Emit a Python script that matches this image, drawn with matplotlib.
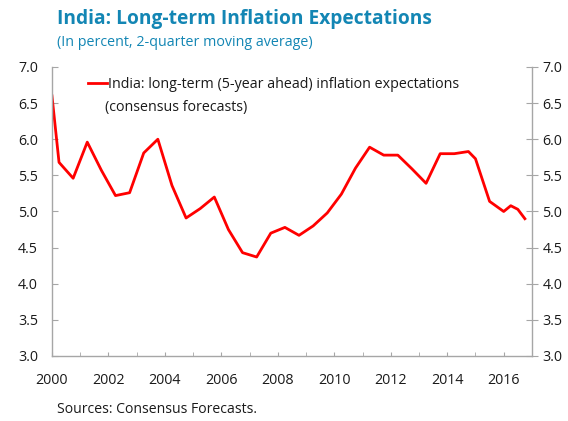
import numpy as np
import matplotlib.pyplot as plt
from matplotlib.ticker import MultipleLocator

plt.rcParams['font.family'] = ['Open Sans', 'DejaVu Sans']

# semiannual points, quarterly near the end
years = [2000.0, 2000.25, 2000.75, 2001.25, 2001.75, 2002.25, 2002.75, 2003.25,
         2003.75, 2004.25, 2004.75, 2005.25, 2005.75, 2006.25, 2006.75, 2007.25,
         2007.75, 2008.25, 2008.75, 2009.25, 2009.75, 2010.25, 2010.75, 2011.25,
         2011.75, 2012.25, 2012.75, 2013.25, 2013.75, 2014.25, 2014.75, 2015.0,
         2015.5, 2016.0, 2016.25, 2016.5, 2016.75]
expect = [6.60, 5.68, 5.46, 5.96, 5.57, 5.22, 5.26, 5.81,
          6.00, 5.36, 4.91, 5.04, 5.20, 4.75, 4.43, 4.37,
          4.70, 4.78, 4.67, 4.80, 4.98, 5.24, 5.60, 5.89,
          5.78, 5.78, 5.59, 5.39, 5.80, 5.80, 5.83, 5.73,
          5.14, 5.00, 5.08, 5.03, 4.90]

series_label = 'India: long-term (5-year ahead) inflation expectations'
series_label2 = '(consensus forecasts)'
title = 'India: Long-term Inflation Expectations'
subtitle = '(In percent, 2-quarter moving average)'
source = 'Sources: Consensus Forecasts.'

blue = '#1386b4'
grey = '#a6a6a6'
txt = '#1a1a1a'
fs = 10.3

fig = plt.figure(figsize=(5.68, 4.21), dpi=100)
ax = fig.add_axes([0.0915, 0.1544, 0.845, 0.6865])

ax.plot(years, expect, color='#ff0000', lw=2.0, label=series_label)

ax.set_xlim(2000, 2017)
ax.set_ylim(3.0, 7.0)
ax.xaxis.set_major_locator(MultipleLocator(2))
ax.xaxis.set_minor_locator(MultipleLocator(1))
ax.yaxis.set_major_locator(MultipleLocator(0.5))
ax.yaxis.set_major_formatter(plt.FormatStrFormatter('%.1f'))

ax.spines['top'].set_visible(False)
for s in ['left', 'right', 'bottom']:
    ax.spines[s].set_color(grey)
    ax.spines[s].set_linewidth(1.0)

ax.tick_params(axis='x', which='both', direction='in', length=3, color=grey,
               labelsize=fs, pad=12, labelcolor=txt)
ax.tick_params(axis='y', which='both', direction='in', length=4, color=grey,
               labelsize=fs, labelcolor=txt, pad=10, right=False, labelright=False)

# right axis: ticks cross the spine, labels on the outside
ax2 = ax.twinx()
ax2.set_ylim(3.0, 7.0)
ax2.yaxis.set_major_locator(MultipleLocator(0.5))
ax2.yaxis.set_major_formatter(plt.FormatStrFormatter('%.1f'))
ax2.tick_params(axis='y', direction='inout', length=8, color=grey,
                labelsize=fs, labelcolor=txt, pad=3.5)
for s in ['top', 'left', 'right', 'bottom']:
    ax2.spines[s].set_visible(False)

leg = ax.legend(loc='upper left', bbox_to_anchor=(0.055, 1.0), frameon=False,
                fontsize=fs, handlelength=1.3, handletextpad=0.1,
                borderaxespad=0.3)
for t in leg.get_texts():
    t.set_color(txt)
ax.text(0.11, 0.86, series_label2, transform=ax.transAxes, fontsize=fs,
        ha='left', va='center', color=txt)

fig.text(0.1, 0.955, title, fontsize=13.8, fontweight='bold', color=blue,
         ha='left', va='center')
fig.text(0.1, 0.9, subtitle, fontsize=10.3, color=blue, ha='left', va='center')
fig.text(0.1, 0.027, source, fontsize=10.1, color=txt, ha='left', va='center')

fig.savefig('out.png', dpi=100)
